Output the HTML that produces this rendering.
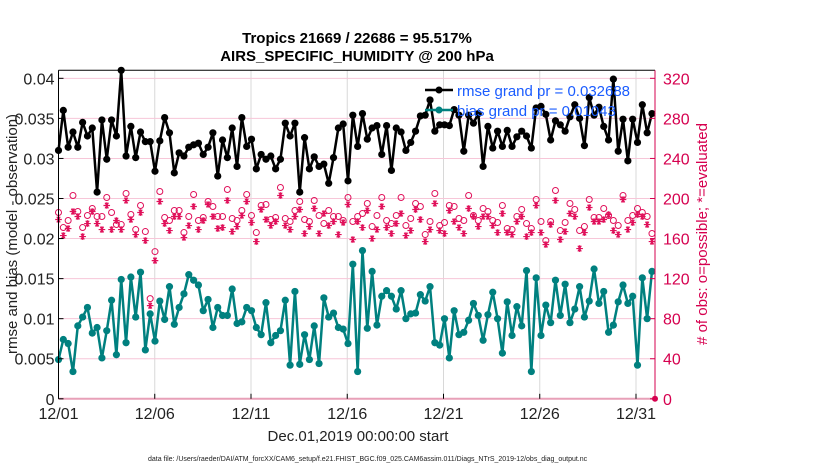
<!DOCTYPE html>
<html><head><meta charset="utf-8"><style>
body{margin:0;background:#fff;width:830px;height:470px;overflow:hidden}
svg{font-family:"Liberation Sans",sans-serif}
</style></head><body>
<svg id="chart" width="830" height="470" viewBox="0 0 830 470" xmlns="http://www.w3.org/2000/svg">
<text x="357" y="43" text-anchor="middle" font-size="15" font-weight="bold">Tropics 21669 / 22686 = 95.517%</text>
<text x="357" y="61" text-anchor="middle" font-size="15" font-weight="bold">AIRS_SPECIFIC_HUMIDITY @ 200 hPa</text>
<g id="grid"></g>
<g id="marks"></g>
<g id="axes"></g>
<text transform="translate(17,234) rotate(-90)" text-anchor="middle" font-size="15" fill="#222">rmse and bias (model - observation)</text>
<text transform="translate(707,234) rotate(-90)" text-anchor="middle" font-size="15" fill="#d6004f">#  of obs: o=possible; *=evaluated</text>
<text x="358" y="441" text-anchor="middle" font-size="15" fill="#222">Dec.01,2019 00:00:00 start</text>
<text x="148" y="461" font-size="7" fill="#222">data file: /Users/raeder/DAI/ATM_forcXX/CAM6_setup/f.e21.FHIST_BGC.f09_025.CAM6assim.011/Diags_NTrS_2019-12/obs_diag_output.nc</text>
<g>
<line x1="425" y1="90" x2="453" y2="90" stroke="#000" stroke-width="2.5"/><circle cx="439" cy="90" r="3.5" fill="#000"/>
<line x1="425" y1="110" x2="453" y2="110" stroke="#00807f" stroke-width="2.5"/><circle cx="439" cy="110" r="3.5" fill="#00807f"/>
<text x="457" y="96" font-size="15" fill="#1a5cff">rmse grand pr = 0.032688</text>
<text x="457" y="116" font-size="15" fill="#1a5cff">bias grand pr = 0.01043</text>
</g>
</svg>
<script>
const rmse=[0.031,0.036,0.0314,0.0333,0.0314,0.0345,0.0328,0.0338,0.0258,0.0348,0.0299,0.0348,0.0328,0.041,0.0303,0.034,0.0301,0.0333,0.0321,0.0321,0.0284,0.0322,0.0351,0.0332,0.0282,0.0307,0.0303,0.0314,0.0317,0.0319,0.0305,0.0314,0.0332,0.0278,0.0323,0.0301,0.0338,0.029,0.0351,0.0315,0.0324,0.0287,0.0305,0.0299,0.0303,0.0287,0.0299,0.0344,0.0328,0.0344,0.0258,0.0326,0.0287,0.0302,0.029,0.0293,0.0269,0.0301,0.0338,
0.0343,0.0272,0.0354,0.0315,0.0356,0.0324,0.0338,0.0341,0.0305,0.0341,0.0285,0.0338,0.0333,0.031,0.032,0.0334,0.0353,0.0354,0.0373,0.0334,0.0342,0.0342,0.0341,0.0361,0.0354,0.0309,0.0354,0.0344,0.0356,0.029,0.034,0.0313,0.0334,0.0315,0.0335,0.0315,0.0327,0.0334,0.0328,0.0313,0.0363,0.0365,0.0355,0.0323,0.0347,0.0342,0.0334,0.0352,0.0367,0.035,0.0316,0.0376,0.0354,0.0364,0.034,0.0323,0.0399,0.0309,0.0349,0.0297,0.0349,0.032,0.0367,0.0332,0.0356];
const bias=[0.0049,0.0074,0.0069,0.0034,0.0091,0.0102,0.0114,0.0082,0.0089,0.0051,0.0085,0.0123,0.0055,0.0149,0.007,0.0152,0.0102,0.0158,0.0061,0.0106,0.0072,0.0122,0.0099,0.014,0.0093,0.0114,0.0131,0.0155,0.0148,0.0142,0.011,0.0124,0.0089,0.0114,0.0104,0.0104,0.0137,0.0094,0.0096,0.0114,0.011,0.0089,0.008,0.012,0.007,0.0079,0.0085,0.0123,0.0042,0.0134,0.0043,0.008,0.0049,0.0091,0.0044,0.0126,0.0102,0.0107,0.0089,
0.0087,0.0069,0.0168,0.0034,0.0185,0.0088,0.0159,0.0092,0.0128,0.0135,0.0128,0.0112,0.0135,0.01,0.0106,0.0107,0.013,0.0122,0.014,0.007,0.0067,0.01,0.0051,0.011,0.008,0.0083,0.0098,0.0119,0.0104,0.0073,0.0105,0.0133,0.01,0.0057,0.0121,0.0079,0.0115,0.0091,0.016,0.0034,0.0151,0.0079,0.0117,0.0095,0.0148,0.0104,0.0143,0.0095,0.0112,0.014,0.0102,0.0122,0.0162,0.0119,0.0134,0.0083,0.0092,0.0121,0.0142,0.0119,0.0128,0.0042,0.0151,0.01,0.0159];
const possible=[186,171,178,203,187,171,183,190,182,182,201,186,174,174,205,184,169,193,167,100,147,207,181,178,188,188,166,182,204,178,181,197,192,182,182,209,180,178,188,204,183,166,193,194,179,181,211,180,177,188,197,179,177,198,183,175,188,182,182,178,201,
177,182,185,195,172,183,201,178,175,183,201,173,180,195,192,164,177,205,173,176,193,192,180,178,203,183,178,190,187,178,176,193,170,169,182,189,175,170,199,177,158,177,208,168,176,195,189,168,172,199,181,181,190,183,178,173,203,178,183,190,186,182,165];
const evaluated=[179,163,170,187,182,162,175,187,175,169,193,169,178,169,198,179,164,186,158,93,138,197,175,168,182,182,161,173,192,169,178,194,182,170,171,198,167,172,183,197,176,157,189,179,173,177,203,173,169,182,189,165,172,190,165,185,173,177,164,176,194,
159,177,171,188,160,169,192,171,165,175,185,163,168,189,179,157,169,195,168,165,188,177,171,165,190,182,172,182,182,173,166,185,166,164,177,182,162,166,193,166,154,174,198,159,167,185,182,150,166,191,177,177,179,184,168,164,199,169,176,184,182,174,157];
const leftTicks=[0,0.005,0.01,0.015,0.02,0.025,0.03,0.035,0.04];
const leftTickLabels=["0","0.005","0.01","0.015","0.02","0.025","0.03","0.035","0.04"];
const rightTicks=[0,40,80,120,160,200,240,280,320];
const dayTicks=[0,5,10,15,20,25,30];
const dayTickLabels=["12/01","12/06","12/11","12/16","12/21","12/26","12/31"];

const NS="http://www.w3.org/2000/svg";
const X0=58.5,X1=655,Y0=398.8,Y1=70.3,PXDAY=19.25;
const xDay=d=>X0+d*PXDAY;
const xIdx=i=>xDay(i*0.25065);
const yL=v=>Y0-v*8012;
const yR=c=>Y0-c*8012/8000;
function mk(tag,attrs,parent){const e=document.createElementNS(NS,tag);for(const k in attrs)e.setAttribute(k,attrs[k]);parent.appendChild(e);return e;}
const grid=document.getElementById('grid'),marks=document.getElementById('marks'),axes=document.getElementById('axes');
mk('rect',{x:X0,y:Y1,width:X1-X0,height:Y0-Y1,fill:'#fff'},grid);
dayTicks.forEach(d=>{const l=mk('line',{x1:xDay(d),x2:xDay(d),y1:Y1,y2:Y0,stroke:'#d8d8d8','stroke-width':1},grid);

});
leftTicks.forEach(v=>{if(v===0)return;const l=mk('line',{x1:X0,x2:X1,y1:yL(v),y2:yL(v),stroke:'#f7c6d8','stroke-width':1},grid);

});
possible.forEach((c,i)=>{const e=mk('circle',{cx:xIdx(i),cy:yR(c),r:3,fill:'none',stroke:'#e0105a','stroke-width':1},marks);

});
evaluated.forEach((c,i)=>{const x=xIdx(i),y=yR(c),r=3.3;
const d=`M${x-r},${y}H${x+r}M${x-r*0.5},${y-r*0.87}L${x+r*0.5},${y+r*0.87}M${x-r*0.5},${y+r*0.87}L${x+r*0.5},${y-r*0.87}M${x},${y-r}V${y+r}`;
const e=mk('path',{d:d,stroke:'#e0105a','stroke-width':1.2,fill:'none'},marks);

});
function series(arr,color,name){
const p=mk('polyline',{points:arr.map((v,i)=>xIdx(i)+','+yL(v)).join(' '),fill:'none',stroke:color,'stroke-width':2.5,'stroke-linejoin':'round'},marks);


arr.forEach((v,i)=>{const c=mk('circle',{cx:xIdx(i),cy:yL(v),r:3.6,fill:color},marks);

});}
series(bias,'#00807f','bias');
series(rmse,'#000','rmse');
mk('line',{x1:X0,x2:X1,y1:Y0,y2:Y0,stroke:'#e8a0b8','stroke-width':2},axes);
mk('line',{x1:X0,x2:X1,y1:Y1,y2:Y1,stroke:'#000','stroke-width':1},axes);
mk('line',{x1:X0,x2:X0,y1:Y1,y2:Y0,stroke:'#000','stroke-width':1},axes);
mk('line',{x1:X1,x2:X1,y1:Y1,y2:Y0,stroke:'#d6004f','stroke-width':1},axes);
mk('circle',{cx:X1,cy:Y0,r:3,fill:'#d6004f'},axes);
leftTicks.forEach((v,k)=>{mk('line',{x1:X0,x2:X0+5,y1:yL(v),y2:yL(v),stroke:'#000'},axes);
const t=mk('text',{x:X0-4,y:yL(v)+6,'text-anchor':'end','font-size':16,fill:'#222'},axes);t.textContent=leftTickLabels[k];

});
rightTicks.forEach(c=>{mk('line',{x1:X1-5,x2:X1,y1:yR(c),y2:yR(c),stroke:'#d6004f'},axes);
const t=mk('text',{x:X1+8,y:yR(c)+6,'font-size':16,fill:'#d6004f'},axes);t.textContent=c;

});
dayTicks.forEach((d,k)=>{mk('line',{x1:xDay(d),x2:xDay(d),y1:Y0-5,y2:Y0,stroke:'#000'},axes);
const t=mk('text',{x:xDay(d),y:Y0+20,'text-anchor':'middle','font-size':16,fill:'#222'},axes);t.textContent=dayTickLabels[k];

});
</script>
</body></html>
